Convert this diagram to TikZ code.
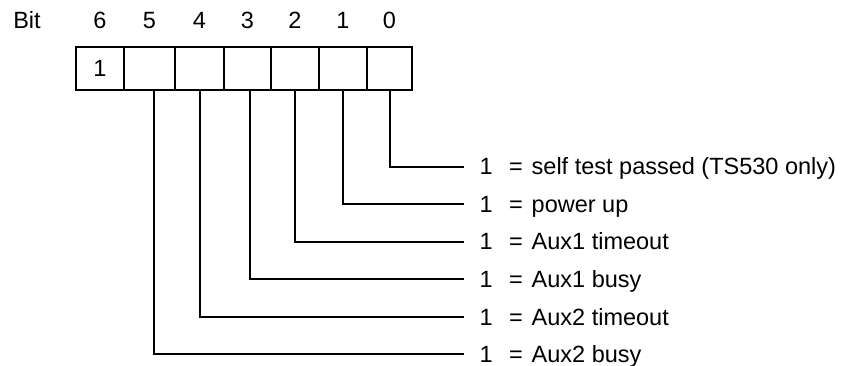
\documentclass[tikz,border=0pt]{standalone}
\usepackage{fontspec}
\setmainfont{Liberation Sans}
\begin{document}
\begin{tikzpicture}[x=1pt,y=-1pt,
  every node/.style={font=\fontsize{23.5}{27}\selectfont},
  cell/.style={draw,line width=2pt,minimum height=43.5pt,inner sep=0pt,anchor=north west},
  hdr/.style={inner sep=0pt,anchor=base},
  lbl/.style={inner sep=0pt,anchor=base west},
  wire/.style={line width=2pt}]
\useasboundingbox (0,0) rectangle (849,366);
% header
\node[hdr] (bit) at (27,28.5) {Bit};
% cells
\node[cell,minimum width=48pt] (c6) at (75,46) {1};
\node[cell,minimum width=51pt] (c5) at (123,46) {};
\node[cell,minimum width=49pt] (c4) at (174,46) {};
\node[cell,minimum width=47pt] (c3) at (223,46) {};
\node[cell,minimum width=48pt] (c2) at (270,46) {};
\node[cell,minimum width=48pt] (c1) at (318,46) {};
\node[cell,minimum width=45pt] (c0) at (366,46) {};
\foreach \i in {6,5,4,3,2,1,0}{
  \node[hdr] (h\i) at (c\i.center |- bit.base) {\i};
}
% labels
\newcommand{\eqlbl}[1]{\makebox[29.5pt][l]{1}\makebox[22.5pt][l]{=}#1}
\node[lbl] (t0) at (479.5,175) {\eqlbl{self test passed (TS530 only)}};
\node[lbl] (t1) at (479.5,212.5) {\eqlbl{power up}};
\node[lbl] (t2) at (479.5,250) {\eqlbl{Aux1 timeout}};
\node[lbl] (t3) at (479.5,287.5) {\eqlbl{Aux1 busy}};
\node[lbl] (t4) at (479.5,325) {\eqlbl{Aux2 timeout}};
\node[lbl] (t5) at (479.5,362) {\eqlbl{Aux2 busy}};
% wires
\coordinate (e0) at (464,167);
\coordinate (e1) at (464,204.5);
\coordinate (e2) at (464,242);
\coordinate (e3) at (464,279.5);
\coordinate (e4) at (464,317);
\coordinate (e5) at (464,354);
\draw[wire] (c0.south) |- (e0);
\draw[wire] (c1.south) |- (e1);
\draw[wire] (c2.south) |- (e2);
\draw[wire] ([xshift=2.5pt]c3.south) |- (e3);
\draw[wire] (c4.south) |- (e4);
\draw[wire] ([xshift=4.5pt]c5.south) |- (e5);
\end{tikzpicture}
\end{document}
